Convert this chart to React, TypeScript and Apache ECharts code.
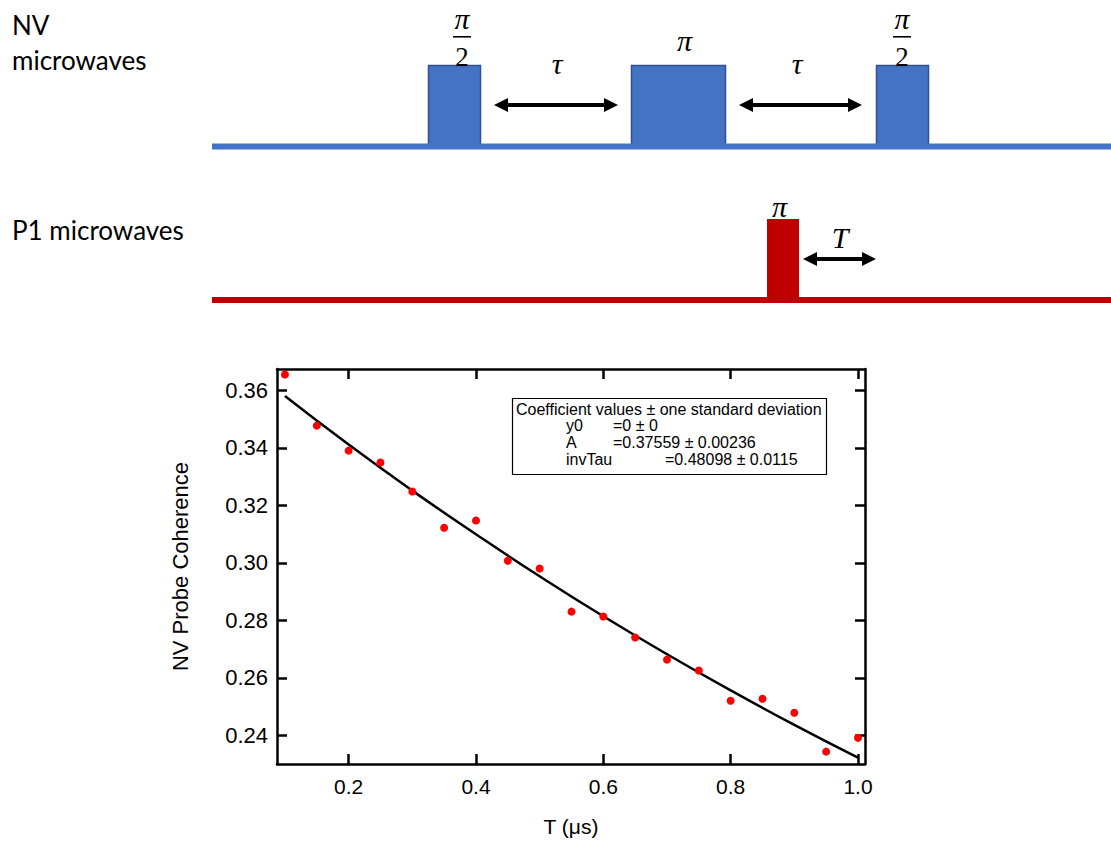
import React, { useEffect, useRef } from "react";
import * as echarts from "echarts";

// Measured data (T in µs, NV probe coherence)
const tValues = [0.1, 0.15, 0.2, 0.25, 0.3, 0.35, 0.4, 0.45, 0.5, 0.55, 0.6, 0.65, 0.7, 0.75, 0.8, 0.85, 0.9, 0.95, 1.0];
const coherence = [0.3655, 0.3477, 0.339, 0.3349, 0.3248, 0.3122, 0.3147, 0.3007, 0.298, 0.283, 0.2813, 0.274, 0.2663, 0.2625, 0.252, 0.2527, 0.2478, 0.2343, 0.2391];

// Fit curve
const fitT = [0.1, 0.2, 0.3, 0.4, 0.5, 0.6, 0.7, 0.8, 0.9, 1.0];
const fitValues = [0.358, 0.3411, 0.3251, 0.3099, 0.2953, 0.2814, 0.2682, 0.2556, 0.2436, 0.2322];

const xTicks = [0.2, 0.4, 0.6, 0.8, 1.0];
const yTicks = [0.24, 0.26, 0.28, 0.3, 0.32, 0.34, 0.36];

const legendLines = [
  ["y0", "=0 ± 0"],
  ["A", "=0.37559 ± 0.00236"],
  ["invTau", "=0.48098 ± 0.0115"],
];

const SANS = '"Liberation Sans", Arial, sans-serif';
const MATH = '"Liberation Serif", "DejaVu Serif", serif';
const LABEL = 'Lato, "Noto Sans", sans-serif';

function arrow(x1: number, x2: number, y: number) {
  const h = 14;
  const w = 7;
  return [
    { type: "line", shape: { x1: x1 + h - 2, y1: y, x2: x2 - h + 2, y2: y }, style: { stroke: "#000", lineWidth: 4 } },
    { type: "polygon", shape: { points: [[x1, y], [x1 + h, y - w], [x1 + h, y + w]] }, style: { fill: "#000" } },
    { type: "polygon", shape: { points: [[x2, y], [x2 - h, y - w], [x2 - h, y + w]] }, style: { fill: "#000" } },
  ];
}

function fraction(cx: number) {
  return [
    { type: "text", x: cx, y: 18, style: { text: "π", font: `italic 30px ${MATH}`, fill: "#000", align: "center", verticalAlign: "middle" } },
    { type: "rect", shape: { x: cx - 9, y: 36, width: 18, height: 1.6 }, style: { fill: "#000" } },
    { type: "text", x: cx, y: 57, z: 5, style: { text: "2", font: `27px ${MATH}`, fill: "#000", align: "center", verticalAlign: "middle" } },
  ];
}

export default function App() {
  const ref = useRef<HTMLDivElement>(null);
  useEffect(() => {
    if (!ref.current) return;
    const chart = echarts.init(ref.current, undefined, { renderer: "svg" });
    const blue = "#4472C4";
    const blueEdge = "#2F528F";
    const red = "#C00000";
    const pulseStyle = { fill: blue, stroke: blueEdge, lineWidth: 1.5 };

    const graphics: any[] = [
      // left labels
      { type: "text", x: 12, y: 24.5, style: { text: "NV", font: `26px ${LABEL}`, fill: "#000", verticalAlign: "middle" } },
      { type: "text", x: 12, y: 60, style: { text: "microwaves", font: `26px ${LABEL}`, fill: "#000", verticalAlign: "middle" } },
      { type: "text", x: 12, y: 230, style: { text: "P1 microwaves", font: `26px ${LABEL}`, fill: "#000", verticalAlign: "middle" } },
      // blue pulses
      { type: "rect", shape: { x: 428.5, y: 65.5, width: 52, height: 80 }, style: pulseStyle },
      { type: "rect", shape: { x: 631.5, y: 65.5, width: 94, height: 80 }, style: pulseStyle },
      { type: "rect", shape: { x: 876.5, y: 65.5, width: 52, height: 80 }, style: pulseStyle },
      { type: "rect", shape: { x: 212, y: 143.5, width: 899, height: 6 }, style: { fill: blue } },
      // red pulse
      { type: "rect", shape: { x: 767, y: 219, width: 32, height: 80 }, style: { fill: red } },
      { type: "rect", shape: { x: 212, y: 297, width: 899, height: 6 }, style: { fill: red } },
      // labels
      ...fraction(462),
      ...fraction(902),
      { type: "text", x: 684.5, y: 40, style: { text: "π", font: `italic 30px ${MATH}`, fill: "#000", align: "center", verticalAlign: "middle" } },
      { type: "text", x: 557, y: 63, style: { text: "τ", font: `italic 30px ${MATH}`, fill: "#000", align: "center", verticalAlign: "middle" } },
      { type: "text", x: 797, y: 63, style: { text: "τ", font: `italic 30px ${MATH}`, fill: "#000", align: "center", verticalAlign: "middle" } },
      { type: "text", x: 779.5, y: 206, style: { text: "π", font: `italic 30px ${MATH}`, fill: "#000", align: "center", verticalAlign: "middle" } },
      { type: "text", x: 840, y: 237, style: { text: "T", font: `italic 30px ${MATH}`, fill: "#000", align: "center", verticalAlign: "middle" } },
      ...arrow(494, 618, 105),
      ...arrow(739, 862, 105),
      ...arrow(803, 876, 259),
      // fit coefficient box
      { type: "rect", shape: { x: 512.5, y: 398.5, width: 314, height: 76 }, style: { fill: "#fff", stroke: "#000", lineWidth: 1.2 }, z: 10 },
      { type: "text", x: 516, y: 409, z: 11, style: { text: "Coefficient values ± one standard deviation", font: `16px ${SANS}`, fill: "#000", verticalAlign: "middle" } },
    ];
    const rowY = [425.5, 442, 459];
    const valueX = [613, 613, 665];
    legendLines.forEach((row, i) => {
      graphics.push({ type: "text", x: 566, y: rowY[i], z: 11, style: { text: row[0], font: `16px ${SANS}`, fill: "#000", verticalAlign: "middle" } });
      graphics.push({ type: "text", x: valueX[i], y: rowY[i], z: 11, style: { text: row[1], font: `16px ${SANS}`, fill: "#000", verticalAlign: "middle" } });
    });

    const axisLine = { show: true, lineStyle: { color: "#000", width: 2.5 } };
    const xMin = 0.0875;
    const xMax = 1.011;
    const yMin = 0.23;
    const yMax = 0.3674;

    chart.setOption({
      animation: false,
      backgroundColor: "#fff",
      grid: { left: 277, right: 246, top: 369, bottom: 82, containLabel: false },
      xAxis: [
        {
          type: "value",
          min: xMin,
          max: xMax,
          position: "bottom",
          axisLine,
          axisTick: { show: true, inside: true, length: 10, customValues: xTicks, lineStyle: { color: "#000", width: 2.5 } },
          axisLabel: { customValues: xTicks, formatter: (v: number) => v.toFixed(1), color: "#000", fontSize: 21, fontFamily: SANS, margin: 12 },
          splitLine: { show: false },
          name: "T (μs)",
          nameLocation: "middle",
          nameGap: 52,
          nameTextStyle: { color: "#000", fontSize: 21, fontFamily: SANS },
        },
        {
          type: "value",
          min: xMin,
          max: xMax,
          position: "top",
          axisLine,
          axisTick: { show: true, inside: true, length: 10, customValues: xTicks, lineStyle: { color: "#000", width: 2.5 } },
          axisLabel: { show: false },
          splitLine: { show: false },
        },
      ],
      yAxis: [
        {
          type: "value",
          min: yMin,
          max: yMax,
          position: "left",
          axisLine,
          axisTick: { show: true, inside: true, length: 10, customValues: yTicks, lineStyle: { color: "#000", width: 2.5 } },
          axisLabel: { customValues: yTicks, formatter: (v: number) => v.toFixed(2), color: "#000", fontSize: 22, fontFamily: SANS, margin: 9 },
          splitLine: { show: false },
          name: "NV Probe Coherence",
          nameLocation: "middle",
          nameGap: 86,
          nameTextStyle: { color: "#000", fontSize: 22, fontFamily: SANS },
        },
        {
          type: "value",
          min: yMin,
          max: yMax,
          position: "right",
          axisLine,
          axisTick: { show: true, inside: true, length: 10, customValues: yTicks, lineStyle: { color: "#000", width: 2.5 } },
          axisLabel: { show: false },
          splitLine: { show: false },
        },
      ],
      series: [
        {
          type: "line",
          xAxisIndex: 0,
          yAxisIndex: 0,
          data: fitT.map((t, i) => [t, fitValues[i]]),
          smooth: true,
          showSymbol: false,
          lineStyle: { color: "#000", width: 2.5 },
          z: 2,
        },
        {
          type: "scatter",
          xAxisIndex: 0,
          yAxisIndex: 0,
          data: tValues.map((t, i) => [t, coherence[i]]),
          symbolSize: 8,
          itemStyle: { color: "#FF0000", opacity: 1 },
          z: 3,
        },
      ],
      graphic: graphics,
    });
    return () => chart.dispose();
  }, []);

  return <div ref={ref} style={{ position: "absolute", left: 0, top: 0, width: 1111, height: 846 }} />;
}
